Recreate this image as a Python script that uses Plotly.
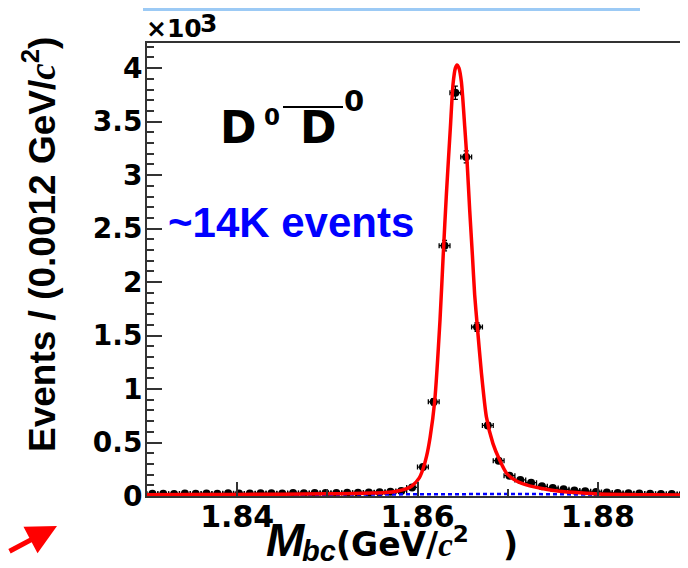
import plotly.graph_objects as go

# ---------------- data ----------------
bin_centers = [1.8306, 1.8318, 1.8330, 1.8342, 1.8354, 1.8366, 1.8378, 1.8390, 1.8402, 1.8414,
               1.8426, 1.8438, 1.8450, 1.8462, 1.8474, 1.8486, 1.8498, 1.8510, 1.8522, 1.8534,
               1.8546, 1.8558, 1.8570, 1.8582, 1.8594, 1.8606, 1.8618, 1.8630, 1.8642, 1.8654,
               1.8666, 1.8678, 1.8690, 1.8702, 1.8714, 1.8726, 1.8738, 1.8750, 1.8762, 1.8774,
               1.8786, 1.8798, 1.8810, 1.8822, 1.8834, 1.8846, 1.8858, 1.8870, 1.8882, 1.8894]
counts = [20, 22, 19, 23, 21, 24, 22, 25, 24, 23,
          26, 25, 24, 27, 26, 28, 27, 29, 31, 30,
          33, 36, 40, 47, 80, 270, 880, 2340, 3770, 3170,
          1580, 660, 330, 190, 150, 125, 90, 75, 62, 52,
          45, 38, 33, 29, 26, 23, 21, 19, 18, 17]
count_errors = [4.5, 4.7, 4.4, 4.8, 4.6, 4.9, 4.7, 5.0, 4.9, 4.8,
                5.1, 5.0, 4.9, 5.2, 5.1, 5.3, 5.2, 5.4, 5.6, 5.5,
                5.7, 6.0, 6.3, 6.9, 8.9, 16.4, 29.7, 48.4, 61.4, 56.3,
                39.7, 25.7, 18.2, 13.8, 12.2, 11.2, 9.5, 8.7, 7.9, 7.2,
                6.7, 6.2, 5.7, 5.4, 5.1, 4.8, 4.6, 4.4, 4.2, 4.1]
half_bin = 0.0006

# total fit curve (thousands of events)
fit_x = [1.8300, 1.8350, 1.8400, 1.8450, 1.8500, 1.8530, 1.8550, 1.8565, 1.8577, 1.8588,
         1.8594, 1.8602, 1.8606, 1.8610, 1.8614, 1.8619, 1.8625, 1.86285, 1.86321, 1.86365,
         1.86394, 1.8642, 1.86438, 1.8646, 1.86487, 1.86524, 1.86549, 1.86579, 1.86609, 1.86634,
         1.86664, 1.86709, 1.86764, 1.86837, 1.86911, 1.86986, 1.87059, 1.8715, 1.87244, 1.8741,
         1.87576, 1.8780, 1.8800, 1.8830, 1.8860, 1.8900]
fit_y = [0.012, 0.013, 0.015, 0.017, 0.020, 0.023, 0.027, 0.033, 0.045, 0.068,
         0.095, 0.17, 0.25, 0.37, 0.55, 0.88, 1.65, 2.25, 2.83, 3.45,
         3.85, 4.00, 4.03, 4.00, 3.87, 3.45, 3.14, 2.67, 2.25, 1.88,
         1.58, 1.15, 0.74, 0.49, 0.336, 0.215, 0.16, 0.12, 0.095, 0.065,
         0.045, 0.030, 0.019, 0.014, 0.011, 0.010]

# background component (thousands of events)
bkg_x = [1.830, 1.840, 1.850, 1.856, 1.860, 1.865, 1.870, 1.875, 1.880, 1.884, 1.8865]
bkg_y = [0.006, 0.010, 0.014, 0.017, 0.019, 0.020, 0.019, 0.017, 0.013, 0.008, 0.0]

y_tick_vals = [0, 0.5, 1, 1.5, 2, 2.5, 3, 3.5, 4]
y_tick_text = ["0", "0.5", "1", "1.5", "2", "2.5", "3", "3.5", "4"]
x_tick_vals = [1.84, 1.86, 1.88]
x_tick_text = ["1.84", "1.86", "1.88"]

# ---------------- figure ----------------
# The page body adds an 8px margin, so the figure is laid out in window coordinates minus 8.
OFF = 8
WIN_W, WIN_H = 688, 568
W, H = WIN_W - OFF, WIN_H - OFF
PL, PT, PB, PR = 147, 43, 496, 688          # plot box in window pixels
L, T = PL - OFF, PT - OFF
B = H - (PB - OFF)
R = W - (PR - OFF)
PW, PH = PR - PL, PB - PT


def px(x):
    return (x - PL) / PW


def py(y):
    return (PB - y) / PH


y_k = [c / 1000.0 for c in counts]
ey_k = [e / 1000.0 for e in count_errors]

fig = go.Figure()
fig.add_trace(go.Scatter(
    x=bin_centers, y=y_k, mode="markers",
    marker=dict(color="black", size=8),
    error_x=dict(type="constant", value=half_bin, color="black", thickness=1.3, width=2.5),
    error_y=dict(type="data", array=ey_k, color="black", thickness=1.3, width=2.5),
    hoverinfo="skip"))
fig.add_trace(go.Scatter(
    x=bkg_x, y=bkg_y, mode="lines",
    line=dict(color="#0000ff", width=2.5, dash="4px,3px"), hoverinfo="skip"))
fig.add_trace(go.Scatter(
    x=fit_x, y=fit_y, mode="lines",
    line=dict(color="#ff0000", width=3.5, shape="spline", smoothing=0.6), hoverinfo="skip"))

axis_col = "#333333"
fig.update_layout(
    width=W, height=H,
    margin=dict(l=L, r=R, t=T, b=B, pad=0, autoexpand=False),
    paper_bgcolor="white", plot_bgcolor="white",
    showlegend=False,
    xaxis=dict(range=[1.83, 1.89], showgrid=False, zeroline=False, automargin=False,
               showline=True, linecolor=axis_col, linewidth=2, mirror=True,
               ticks="inside", ticklen=14, tickwidth=1.5, tickcolor=axis_col,
               tickvals=x_tick_vals, ticktext=x_tick_text, ticklabelstandoff=-7,
               tickfont=dict(family="DejaVu Sans", size=30, color="black", weight="bold"),
               minor=dict(dtick=0.01, tick0=1.84, ticks="inside", ticklen=7,
                          tickwidth=1.5, tickcolor=axis_col)),
    yaxis=dict(range=[0, 4.235], showgrid=False, zeroline=False, automargin=False,
               showline=True, linecolor=axis_col, linewidth=2,
               ticks="inside", ticklen=15, tickwidth=1.5, tickcolor=axis_col,
               tickvals=y_tick_vals, ticktext=y_tick_text, ticklabelstandoff=-3,
               tickfont=dict(family="DejaVu Sans", size=28, color="black", weight="bold"),
               minor=dict(dtick=0.1, tick0=0, ticks="inside", ticklen=7,
                          tickwidth=1.5, tickcolor=axis_col)),
)

ann = []
serif_c = "<span style='font-family:Liberation Serif'><i>c</i></span>"
# y axis title
ann.append(dict(text="Events / (0.0012 GeV/" + serif_c + "<sup>2</sup>)",
                x=px(40), y=py(245), xref="paper", yref="paper", textangle=-90,
                xanchor="center", yanchor="middle", showarrow=False,
                font=dict(family="Liberation Sans", size=37, color="black", weight="bold")))
# x axis title pieces
ann.append(dict(text="<i>M</i>", x=px(265), y=py(566.5), xref="paper", yref="paper",
                xanchor="left", yanchor="bottom", showarrow=False, borderpad=0,
                font=dict(family="Liberation Sans", size=46, color="black", weight="bold")))
ann.append(dict(text="<i>bc</i>", x=px(301), y=py(568), xref="paper", yref="paper",
                xanchor="left", yanchor="bottom", showarrow=False, borderpad=0,
                font=dict(family="Liberation Sans", size=29, color="black", weight="bold")))
ann.append(dict(text="(GeV/" + serif_c + "<sup>2</sup>", x=px(335), y=py(564.8),
                xref="paper", yref="paper", xanchor="left", yanchor="bottom",
                showarrow=False, borderpad=0,
                font=dict(family="DejaVu Sans", size=33, color="black", weight="bold")))
ann.append(dict(text=")", x=px(502), y=py(564.8),
                xref="paper", yref="paper", xanchor="left", yanchor="bottom",
                showarrow=False, borderpad=0,
                font=dict(family="DejaVu Sans", size=33, color="black", weight="bold")))
# x10^3
ann.append(dict(text="×10", x=px(145), y=py(28), xref="paper", yref="paper",
                xanchor="left", yanchor="middle", showarrow=False, borderpad=0,
                font=dict(family="DejaVu Sans", size=25, color="black", weight="bold")))
ann.append(dict(text="3", x=px(199), y=py(23), xref="paper", yref="paper",
                xanchor="left", yanchor="middle", showarrow=False, borderpad=0,
                font=dict(family="DejaVu Sans", size=25, color="black", weight="bold")))
# D0 D0bar
ann.append(dict(text="D", x=px(218.7), y=py(127.5), xref="paper", yref="paper",
                xanchor="left", yanchor="middle", showarrow=False, borderpad=0,
                font=dict(family="DejaVu Sans", size=44, color="black", weight="bold")))
ann.append(dict(text="0", x=px(263.4), y=py(116.5), xref="paper", yref="paper",
                xanchor="left", yanchor="middle", showarrow=False, borderpad=0,
                font=dict(family="DejaVu Sans", size=23, color="black", weight="bold")))
ann.append(dict(text="D", x=px(299), y=py(127.5), xref="paper", yref="paper",
                xanchor="left", yanchor="middle", showarrow=False, borderpad=0,
                font=dict(family="DejaVu Sans", size=44, color="black", weight="bold")))
ann.append(dict(text="0", x=px(343), y=py(101), xref="paper", yref="paper",
                xanchor="left", yanchor="middle", showarrow=False, borderpad=0,
                font=dict(family="DejaVu Sans", size=29, color="black", weight="bold")))
# ~14K events
ann.append(dict(text="~14K events", x=px(167), y=py(222.2), xref="paper", yref="paper",
                xanchor="left", yanchor="middle", showarrow=False, borderpad=0,
                font=dict(family="Liberation Sans", size=42, color="#0000ff", weight="bold")))
# red arrow at bottom left
ann.append(dict(text="", x=px(57), y=py(526), xref="paper", yref="paper",
                ax=-55, ay=26, axref="pixel", ayref="pixel",
                showarrow=True, arrowhead=2, arrowsize=1.2, arrowwidth=5,
                arrowcolor="#ff0000"))
fig.update_layout(annotations=ann)

fig.add_shape(type="line", xref="paper", yref="paper",
              x0=px(283), x1=px(343), y0=py(107), y1=py(107),
              line=dict(color="black", width=2))
fig.add_shape(type="rect", xref="paper", yref="paper",
              x0=px(143), x1=px(640), y0=py(11), y1=py(8),
              line=dict(width=0), fillcolor="#9ccaf5")

fig.write_html("out.html")
